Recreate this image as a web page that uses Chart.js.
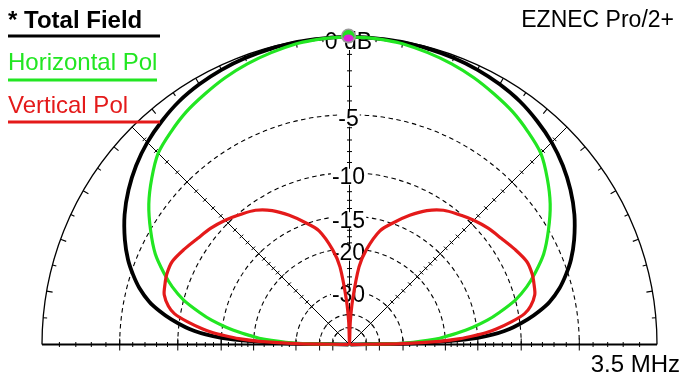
<!DOCTYPE html>
<html><head><meta charset="utf-8">
<script src="https://cdn.jsdelivr.net/npm/chart.js@4.4.1/dist/chart.umd.min.js"></script>
<style>html,body{margin:0;padding:0;background:#fff;overflow:hidden}canvas{display:block}</style>
</head><body>
<canvas id="c" width="681" height="374"></canvas>
<script>
// ---- data (elevation angle in degrees, gain in dB relative to max) ----
const elevationDeg    = [0, 1, 2, 3, 4, 5, 6, 8, 10, 12, 15, 18, 21, 25, 30, 35, 40, 45, 50, 55, 60, 65, 70, 75, 80, 83, 86, 88, 90];
const totalFieldDb    = [-99, -27, -19, -15, -13, -11.7, -10.7, -9.2, -8.0, -7.0, -5.95, -5.15, -4.45, -3.7, -2.9, -2.25, -1.7, -1.25, -0.9, -0.6, -0.4, -0.25, -0.15, -0.08, -0.03, -0.02, -0.01, 0, 0];
const horizontalPolDb = [-99, -33, -27, -23.5, -21, -19.5, -18, -15.5, -13.5, -12, -10, -8.6, -7.5, -6.2, -5.0, -3.9, -3.0, -2.2, -1.75, -1.35, -1.05, -0.75, -0.5, -0.3, -0.12, -0.06, -0.02, -0.01, 0];
const verticalPolDb   = [-99, -30, -21, -17.5, -15.5, -13.8, -12.6, -10.8, -9.4, -8.7, -8.1, -7.9, -7.75, -7.75, -8.2, -8.7, -9.1, -9.6, -10.2, -10.8, -11.8, -13.2, -14.8, -16.5, -20, -23.5, -33, -45, -99];
const seriesNames     = ['* Total Field', 'Horizontal Pol', 'Vertical Pol'];
const ringDb          = [-5, -10, -15, -20, -30, -40, -50];
const ringLabelDb     = [-5, -10, -15, -20, -30];
const ringLabels      = ['-5', '-10', '-15', '-20', '-30'];
const maxLabel        = '0 dB';
const maxElevation    = 90;
const maxGainDb       = 0;
const programText     = 'EZNEC Pro/2+';
const frequencyText   = '3.5 MHz';

// ARRL log scale: each 2 dB step = factor 0.89 in radius
function radiusOf(db) { return Math.pow(0.89, -db / 2); }
function toXY(angDeg, db) {
  const r = radiusOf(db), a = angDeg * Math.PI / 180;
  return { x: r * Math.cos(a), y: r * Math.sin(a) };
}
function buildPattern(dbs) {
  const pts = [];
  for (let i = 0; i < elevationDeg.length; i++) pts.push(toXY(180 - elevationDeg[i], dbs[i]));
  for (let i = elevationDeg.length - 2; i >= 0; i--) pts.push(toXY(elevationDeg[i], dbs[i]));
  return pts;
}

const W = 681, H = 374, CX = 349.5, CY = 344.5, RP = 307.5;
const FONT = '"Liberation Sans", Arial, sans-serif';

const gridPlugin = {
  id: 'polarGrid',
  beforeDatasetsDraw(chart) {
    const ctx = chart.ctx, sx = chart.scales.x, sy = chart.scales.y;
    const cx = sx.getPixelForValue(0), cy = sy.getPixelForValue(0);
    const R = sx.getPixelForValue(1) - cx;
    const rp = db => R * radiusOf(db);
    ctx.save();
    ctx.strokeStyle = '#000';
    // dashed rings
    ctx.lineWidth = 1.1;
    ctx.setLineDash([4.5, 3.5]);
    ringDb.forEach(d => { ctx.beginPath(); ctx.arc(cx, cy, rp(d), Math.PI, 2 * Math.PI); ctx.stroke(); });
    ctx.setLineDash([]);
    // outer circle
    ctx.lineWidth = 1.3;
    ctx.beginPath(); ctx.arc(cx, cy, R, Math.PI, 2 * Math.PI); ctx.stroke();
    // baseline
    ctx.lineWidth = 1.8;
    ctx.beginPath(); ctx.moveTo(cx - R, cy); ctx.lineTo(cx + R, cy); ctx.stroke();
    // radial lines: 45, 90, 135
    ctx.lineWidth = 1;
    [45, 90, 135].forEach(a => {
      const t = a * Math.PI / 180;
      ctx.beginPath(); ctx.moveTo(cx, cy); ctx.lineTo(cx + R * Math.cos(t), cy - R * Math.sin(t)); ctx.stroke();
    });
    // dB ticks along radial lines and baseline
    const tickList = [];
    for (let d = -1; d > -20; d--) tickList.push([d, ringDb.includes(d) ? 4 : 2.5]);
    for (let d = -20; d >= -30; d -= 2) tickList.push([d, ringDb.includes(d) ? 4 : 2.5]);
    tickList.push([-40, 4], [-50, 4]);
    [0, 45, 90, 135, 180].forEach(a => {
      const t = a * Math.PI / 180, ux = Math.cos(t), uy = -Math.sin(t), nx = Math.sin(t), ny = Math.cos(t);
      tickList.forEach(([d, len]) => {
        const rr = rp(d), px = cx + ux * rr, py = cy + uy * rr;
        const L = (a === 0 || a === 180) ? (ringDb.includes(d) ? 6 : 2.5) : len;
        ctx.beginPath(); ctx.moveTo(px - nx * L, py - ny * L); ctx.lineTo(px + nx * L, py + ny * L); ctx.stroke();
      });
    });
    // outer circle angle ticks every 5 degrees
    ctx.lineWidth = 1.1;
    for (let a = 5; a < 180; a += 5) {
      if (a === 45 || a === 135 || a === 90) continue;
      const t = a * Math.PI / 180, L = a % 10 === 0 ? 6 : 4;
      ctx.beginPath();
      ctx.moveTo(cx + R * Math.cos(t), cy - R * Math.sin(t));
      ctx.lineTo(cx + (R - L) * Math.cos(t), cy - (R - L) * Math.sin(t));
      ctx.stroke();
    }
    // ring labels with white background
    ctx.font = '23px ' + FONT;
    ctx.textAlign = 'center'; ctx.textBaseline = 'middle';
    const drawLab = (txt, y) => {
      const w = ctx.measureText(txt).width;
      ctx.fillStyle = '#fff'; ctx.fillRect(cx - 1 - w / 2 - 1, y - 8, w + 2, 16);
      ctx.fillStyle = '#000'; ctx.fillText(txt, cx - 1, y + 1);
    };
    ringLabelDb.forEach((d, i) => drawLab(ringLabels[i], cy - rp(d) + 4));
    drawLab(maxLabel, cy - R + 5);
    ctx.restore();
  },
  afterDatasetsDraw(chart) {
    const ctx = chart.ctx, sx = chart.scales.x, sy = chart.scales.y;
    const m = toXY(maxElevation, maxGainDb);
    const mx = sx.getPixelForValue(m.x) - 1, my = sy.getPixelForValue(m.y) - 1;
    ctx.save();
    // max-gain marker
    ctx.fillStyle = '#9a9a9a';
    ctx.beginPath(); ctx.arc(mx, my, 7.5, 0, 2 * Math.PI); ctx.fill();
    ctx.fillStyle = '#22e022';
    ctx.beginPath(); ctx.arc(mx, my, 6, Math.PI * 0.9, Math.PI * 2.1); ctx.fill();
    ctx.fillStyle = '#e020d8';
    ctx.beginPath(); ctx.ellipse(mx, my + 2, 5, 3.5, 0, 0, 2 * Math.PI); ctx.fill();
    // legend
    const colors = ['#000000', '#22e622', '#e41a1a'];
    const base = [28, 70, 113], lineY = [36, 80, 122], lineEnd = [160, 157, 160];
    seriesNames.forEach((n, i) => {
      ctx.font = (i === 0 ? 'bold ' : '') + '24px ' + FONT;
      ctx.fillStyle = colors[i]; ctx.textAlign = 'left'; ctx.textBaseline = 'alphabetic';
      ctx.fillText(n, 8, base[i]);
      ctx.strokeStyle = colors[i]; ctx.lineWidth = 3.2;
      ctx.beginPath(); ctx.moveTo(8, lineY[i]); ctx.lineTo(lineEnd[i], lineY[i]); ctx.stroke();
    });
    // program / frequency text
    ctx.fillStyle = '#000'; ctx.font = '23px ' + FONT; ctx.textAlign = 'right';
    ctx.fillText(programText, 674, 27);
    ctx.font = '24px ' + FONT;
    ctx.fillText(frequencyText, 680, 372);
    ctx.restore();
  }
};

const ds = (label, dbs, color, w) => ({
  label, data: buildPattern(dbs), showLine: true, borderColor: color, backgroundColor: color,
  borderWidth: w, pointRadius: 0, pointHoverRadius: 0, tension: 0.3, fill: false
});

new Chart(document.getElementById('c'), {
  type: 'scatter',
  data: {
    datasets: [
      ds(seriesNames[2], verticalPolDb, '#e41a1a', 3.2),
      ds(seriesNames[1], horizontalPolDb, '#22e622', 3.2),
      ds(seriesNames[0], totalFieldDb, '#000000', 3.8)
    ]
  },
  options: {
    responsive: false, animation: false, devicePixelRatio: 1,
    layout: { padding: 0 },
    plugins: { legend: { display: false }, tooltip: { enabled: false } },
    scales: {
      x: { type: 'linear', display: false, min: -CX / RP, max: (W - CX) / RP },
      y: { type: 'linear', display: false, min: -(H - CY) / RP, max: CY / RP }
    }
  },
  plugins: [gridPlugin]
});
</script>
</body></html>
